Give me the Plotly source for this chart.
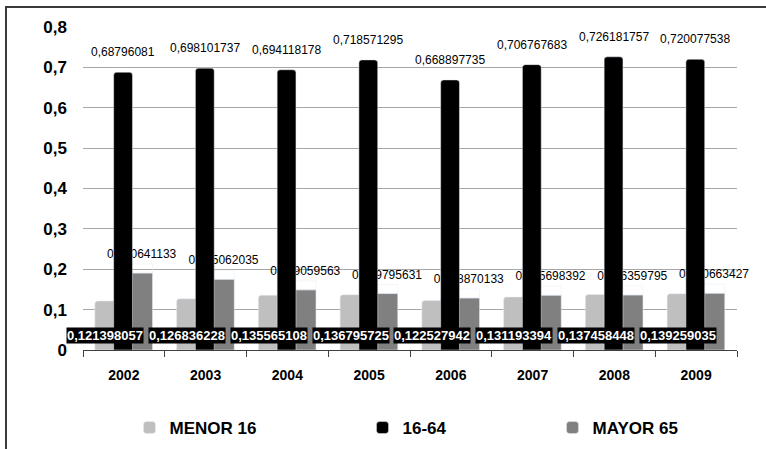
import plotly.graph_objects as go

# ---- data -------------------------------------------------------------
years = ["2002", "2003", "2004", "2005", "2006", "2007", "2008", "2009"]
menor_16 = [0.121398057, 0.126836228, 0.135565108, 0.136795725,
            0.122527942, 0.131193394, 0.137458448, 0.139259035]
edad_16_64 = [0.68796081, 0.698101737, 0.694118178, 0.718571295,
              0.668897735, 0.706767683, 0.726181757, 0.720077538]
mayor_65 = [0.190641133, 0.175062035, 0.149059563, 0.139795631,
            0.128870133, 0.135698392, 0.136359795, 0.140663427]
series_names = ["MENOR 16", "16-64", "MAYOR 65"]
y_tick_values = [0, 0.1, 0.2, 0.3, 0.4, 0.5, 0.6, 0.7, 0.8]
y_tick_labels = ["0", "0,1", "0,2", "0,3", "0,4", "0,5", "0,6", "0,7", "0,8"]

# ---- page geometry ------------------------------------------------------
W, H = 766, 449
ML, MR, MT, MB = 83, 29, 27, 99
PW, PH = W - ML - MR, H - MT - MB
CAT_PX = PW / len(years)
Y_MAX = 0.8
PX_PER_UNIT = PH / Y_MAX

FONT = "Liberation Sans, Arial, sans-serif"
LIGHT, BLACK, DARK = "#bfbfbf", "#000000", "#808080"

# bar placement inside each category (category units)
OFF_L, W_L = -0.355, 0.26
OFF_B, W_B = -0.125, 0.23
OFF_G, W_G = 0.09, 0.26


def fmt(v):
    return str(v).replace(".", ",")


def px_x(px):
    return (px - ML) / PW


def px_y(py):
    return (H - MB - py) / PH


fig = go.Figure()

fig.add_trace(go.Bar(
    x=years, y=menor_16, name=series_names[0], legend="legend",
    offset=OFF_L, width=W_L, marker=dict(color=LIGHT, cornerradius=3),
))
fig.add_trace(go.Bar(
    x=years, y=mayor_65, name=series_names[2], legend="legend3",
    offset=OFF_G, width=W_G, marker=dict(color=DARK, cornerradius=3),
))
# value labels of the 65+ series, lifted a little above each bar; drawn
# before the 16-64 bars so those bars sit over them
label_lift = 9 / PX_PER_UNIT
fig.add_trace(go.Bar(
    x=years, y=[label_lift] * len(years), base=mayor_65,
    offset=OFF_G, width=W_G, marker=dict(color="rgba(0,0,0,0)"),
    text=[fmt(v) for v in mayor_65], textposition="outside",
    constraintext="none", cliponaxis=False, textangle=0,
    textfont=dict(family=FONT, size=12, color="#000000"),
    hoverinfo="skip", showlegend=False,
))
fig.add_trace(go.Bar(
    x=years, y=edad_16_64, name=series_names[1], legend="legend2",
    offset=OFF_B, width=W_B, marker=dict(color=BLACK, cornerradius=3),
))

annotations = []
for i, v in enumerate(edad_16_64):
    annotations.append(dict(
        x=i, y=v, xref="x", yref="y", showarrow=False,
        text=fmt(v), yanchor="bottom", yshift=11,
        xshift=(OFF_B + W_B / 2) * CAT_PX,
        font=dict(family=FONT, size=12, color="#000000"),
    ))
for i, v in enumerate(menor_16):
    annotations.append(dict(
        x=i, y=0, xref="x", yref="y", showarrow=False,
        text=fmt(v), yanchor="bottom", yshift=6,
        xshift=(OFF_L + W_L / 2) * CAT_PX,
        bgcolor="#000000", borderpad=0,
        font=dict(family=FONT, size=13, color="#ffffff", weight="bold"),
    ))

legend_font = dict(family=FONT, size=17, color="#000000", weight="bold")
legend_y = px_y(428)


def legend_at(square_center_px):
    return dict(
        x=px_x(square_center_px - 20), xanchor="left",
        y=legend_y, yanchor="middle", orientation="h",
        font=legend_font, bgcolor="rgba(0,0,0,0)",
    )


fig.update_layout(
    width=W, height=H,
    margin=dict(l=ML, r=MR, t=MT, b=MB, autoexpand=False),
    paper_bgcolor="#ffffff", plot_bgcolor="#ffffff",
    barmode="overlay",
    font=dict(family=FONT, color="#000000"),
    showlegend=True,
    legend=legend_at(149.5),
    legend2=legend_at(382.5),
    legend3=legend_at(572.5),
    annotations=annotations,
    xaxis=dict(
        type="category", categoryorder="array", categoryarray=years,
        range=[-0.5, len(years) - 0.5],
        tickson="boundaries", ticks="outside", ticklen=6, tickcolor="#404040",
        showline=True, linecolor="#404040", linewidth=1,
        showgrid=False, zeroline=False,
        tickfont=dict(family=FONT, size=14, color="#000000", weight="bold"),
        ticklabelstandoff=12,
    ),
    yaxis=dict(
        range=[0, Y_MAX], tickvals=y_tick_values, ticktext=y_tick_labels,
        showgrid=True, gridcolor="#a6a6a6", gridwidth=1,
        zeroline=False, showline=False, ticks="",
        tickfont=dict(family=FONT, size=17, color="#000000", weight="bold"),
        ticklabelstandoff=15,
    ),
    shapes=[dict(
        type="rect", xref="paper", yref="paper",
        x0=px_x(6), x1=px_x(W + 20), y0=px_y(H + 20), y1=px_y(7),
        line=dict(color="#3a3a3a", width=2), fillcolor="rgba(0,0,0,0)",
        layer="below",
    )],
)

fig.write_html("out.html")
